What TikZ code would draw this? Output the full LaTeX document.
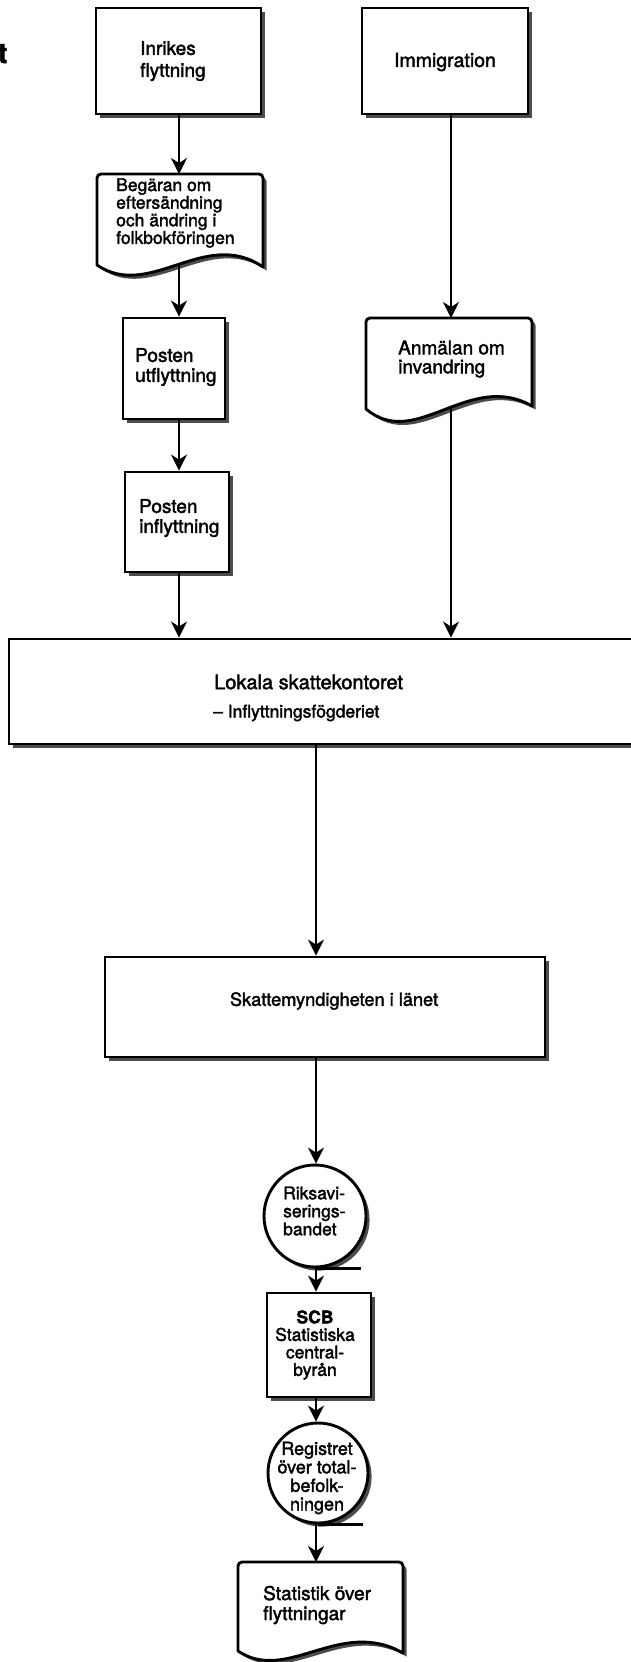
\documentclass[tikz,border=0pt]{standalone}
\usepackage{fontspec}
\setmainfont{TeX Gyre Heros}[FakeBold=2]
\usetikzlibrary{arrows.meta,shadows}
\begin{document}
\begin{tikzpicture}[x=1pt,y=-1pt,
  shad/.style={general shadow={fill=black!70, shadow xshift=3.6pt, shadow yshift=-3.6pt}},
  rbox/.style={draw, line width=2.9pt, fill=white, shad, inner sep=0pt},
  tline/.style={draw, line width=2.9pt, fill=white, shad, line join=round},
  docn/.style={inner sep=0pt, outer sep=0pt},
  txt/.style={inner sep=0pt, align=left},
  ctxt/.style={inner sep=0pt, align=center},
  circ/.style={circle, draw, line width=2.9pt, fill=white, shad, inner sep=0pt},
  arr/.style={line width=1.8pt, -{Stealth[length=16pt,width=16pt,inset=5pt]}}
]
\useasboundingbox (0,0) rectangle (631,1662);
\clip (0,0) rectangle (631,1662);
\fill[white] (0,0) rectangle (631,1662);

\coordinate (colL) at (179,0);
\coordinate (colR) at (451,0);
\coordinate (colC) at (316,0);

% fragment of heading
\node[txt, font=\bfseries\fontsize{28}{28}\selectfont, anchor=base east] (tfrag) at (7.5,63) {t};

% left column
\node[rbox, minimum width=165pt, minimum height=106pt] (inr) at (178.5,61) {};
\node[txt, font=\fontsize{19}{22}\selectfont, anchor=west] (inrT) at (140,61) {Inrikes\\flyttning};

\draw[tline] (97,265) [rounded corners=4pt]-- (97,174) -- (263,174) [sharp corners]-- (263,267)
   .. controls (205,227) and (150,301) .. (97,265) -- cycle;
\node[docn, minimum width=166pt, minimum height=91pt] (beg) at (180,219.5) {};
\node[txt, font=\fontsize{17.5}{16}\selectfont, anchor=west] (begT) at (116,213) {Begäran om\\eftersändning\\och ändring i\\folkbokföringen};

\node[rbox, minimum width=102pt, minimum height=101pt] (put) at (174,368.5) {};
\node[txt, font=\fontsize{19}{20}\selectfont, anchor=west] (putT) at (135,367) {Posten\\utflyttning};

\node[rbox, minimum width=104pt, minimum height=100pt] (pin) at (177,522) {};
\node[txt, font=\fontsize{19}{20}\selectfont, anchor=west] (pinT) at (139,518) {Posten\\inflyttning};

% right column
\node[rbox, minimum width=166pt, minimum height=106pt] (imm) at (445,61) {};
\node[txt, font=\fontsize{19.5}{22}\selectfont] (immT) at (445,62) {Immigration};

\draw[tline] (366,409) [rounded corners=4pt]-- (366,318) -- (532,318) [sharp corners]-- (532,406)
   .. controls (469,370) and (416,451) .. (366,409) -- cycle;
\node[docn, minimum width=166pt, minimum height=89pt] (anm) at (449,362.5) {};
\node[txt, font=\fontsize{19}{19}\selectfont, anchor=west] (anmT) at (398,359) {Anmälan om\\invandring};

% wide boxes
\node[rbox, minimum width=641pt, minimum height=105pt] (lok) at (329.5,691.5) {};
\node[txt, font=\fontsize{20}{22}\selectfont, anchor=west] (lokT1) at (214,682) {Lokala skattekontoret};
\node[txt, font=\fontsize{17.5}{20}\selectfont, anchor=west] (lokT2) at (213,713) {– Inflyttningsfögderiet};

\node[rbox, minimum width=440pt, minimum height=100pt] (ska) at (325,1007) {};
\node[txt, font=\fontsize{18.2}{20}\selectfont] (skaT) at (334,1001) {Skattemyndigheten i länet};

% centre column
\node[circ, minimum size=102pt] (riks) at (315,1216) {};
\node[txt, font=\fontsize{17.5}{18}\selectfont, anchor=west] (riksT) at (283,1211) {Riksavi-\\serings-\\bandet};
\draw[line width=2.9pt] (riks.south) -- ++(46,0);

\node[rbox, minimum width=104pt, minimum height=104pt] (scb) at (319,1345) {};
\node[ctxt, font=\fontsize{17.5}{17.5}\selectfont] (scbT) at (315,1345) {\textbf{SCB}\\Statistiska\\central-\\byrån};

\node[circ, minimum size=100pt] (reg) at (318,1473) {};
\node[ctxt, font=\fontsize{18}{18.5}\selectfont] (regT) at (317,1478) {Registret\\över total-\\befolk-\\ningen};
\draw[line width=2.9pt] (reg.south) -- ++(45,0);

\draw[tline] (238,1651) [rounded corners=4pt]-- (238,1562) -- (403,1562) [sharp corners]-- (403,1653)
   .. controls (340,1617) and (287.5,1684) .. (238,1651) -- cycle;
\node[docn, minimum width=165pt, minimum height=88pt] (sta) at (320.5,1606) {};
\node[txt, font=\fontsize{19}{20}\selectfont, anchor=west] (staT) at (263,1605) {Statistik över\\flyttningar};

% connectors
\draw[arr] (inr.south -| colL) -- (beg.north -| colL);
\draw[arr] (beg.south -| colL) -- (put.north -| colL);
\draw[arr] (put.south -| colL) -- (pin.north -| colL);
\draw[arr] (pin.south -| colL) -- (lok.north -| colL);
\draw[arr] (imm.south -| colR) -- (anm.north -| colR);
\draw[arr] (anm.south -| colR) -- (lok.north -| colR);
\draw[arr] (lok.south -| colC) -- (ska.north -| colC);
\draw[arr] (ska.south -| colC) -- (riks.north -| colC);
\draw[arr] (riks.south -| colC) -- (scb.north -| colC);
\draw[arr] (scb.south -| colC) -- (reg.north -| colC);
\draw[arr] (reg.south -| colC) -- (sta.north -| colC);
\end{tikzpicture}
\end{document}
